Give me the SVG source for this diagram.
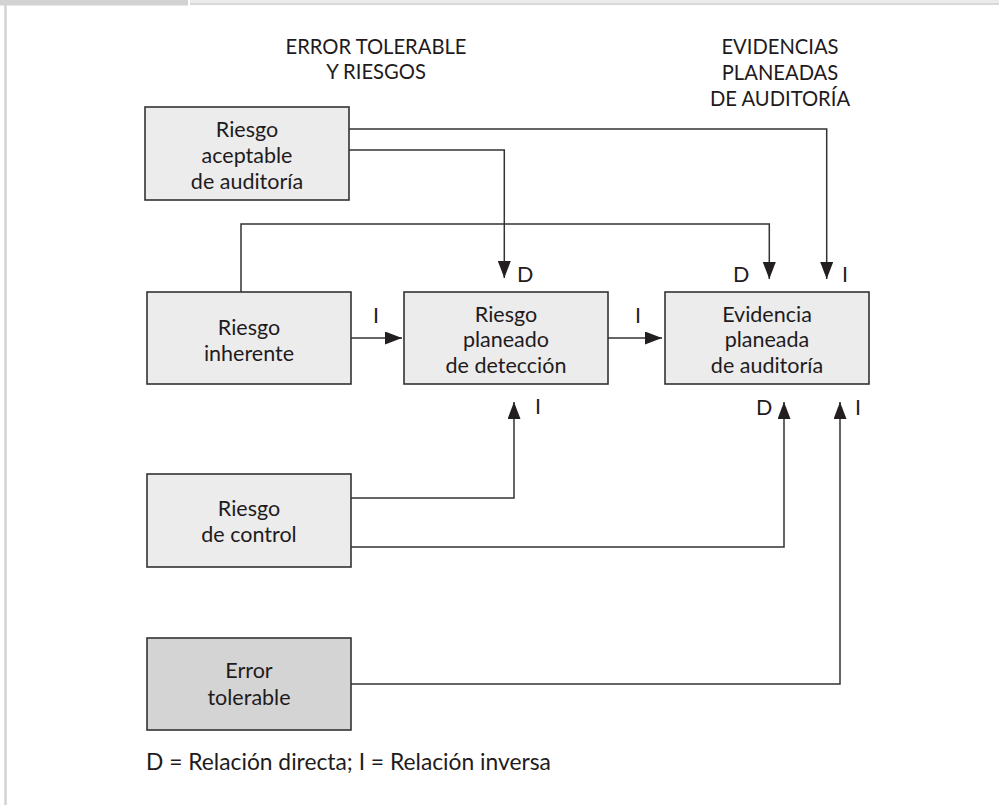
<svg xmlns="http://www.w3.org/2000/svg" width="999" height="805" viewBox="0 0 999 805">
<style>
  .box { fill: #ececec; stroke: #333333; stroke-width: 1.6; }
  .dark { fill: #d4d4d4; }
  .t { font-family: Lato, "Open Sans", sans-serif; font-size: 21.5px; fill: #1f1b1c; text-anchor: middle; }
  .h { font-size: 20.2px; }
  .lbl { font-family: Lato, "Open Sans", sans-serif; font-size: 21.5px; fill: #1f1b1c; }
  .leg { font-family: Lato, "Open Sans", sans-serif; font-size: 22.8px; fill: #1f1b1c; }
  .c { fill: none; stroke: #333333; stroke-width: 1.5; marker-end: url(#ah); }
</style>
<defs>
  <marker id="ah" markerUnits="userSpaceOnUse" markerWidth="20" markerHeight="14" refX="17" refY="6.5" orient="auto">
    <path d="M0,0 L17,6.5 L0,13 Z" fill="#231f20"/>
  </marker>
</defs>
<rect x="0" y="0" width="999" height="805" fill="#ffffff"/>
<g id="frame">
  <rect x="0" y="0" width="188" height="5.5" fill="#d2d2d2"/>
  <rect x="190" y="0" width="809" height="3" fill="#ebebeb"/>
  <rect x="190" y="3" width="809" height="2" fill="#d8d8d8"/>
  <rect x="4.3" y="5" width="2.4" height="800" fill="#d2d2d2"/>
</g>
<g id="headers">
  <text class="t h" x="376" y="54">ERROR TOLERABLE</text>
  <text class="t h" x="376" y="79">Y RIESGOS</text>
  <text class="t h" x="780" y="54">EVIDENCIAS</text>
  <text class="t h" x="780" y="80">PLANEADAS</text>
  <text class="t h" x="780" y="106">DE AUDITORÍA</text>
</g>
<g id="connectors">
  <path class="c" d="M349,129 H826.7 V279"/>
  <path class="c" d="M349,150 H504.3 V278"/>
  <path class="c" d="M241,292 V224 H769.3 V279"/>
  <path class="c" d="M351,338 H402"/>
  <path class="c" d="M608,338 H662"/>
  <path class="c" d="M351,498 H514 V402"/>
  <path class="c" d="M351,547 H784 V402"/>
  <path class="c" d="M351,684 H840 V402"/>
</g>
<g id="connector-labels">
  <text class="lbl" x="517" y="282">D</text>
  <text class="lbl" x="733" y="282">D</text>
  <text class="lbl" x="842" y="282">I</text>
  <text class="lbl" x="373" y="323">I</text>
  <text class="lbl" x="635" y="323">I</text>
  <text class="lbl" x="535" y="414">I</text>
  <text class="lbl" x="756" y="415">D</text>
  <text class="lbl" x="855" y="415">I</text>
</g>
<g id="riesgo-aceptable">
  <rect class="box" x="145" y="107" width="204" height="93"/>
  <text class="t" x="247" y="137">Riesgo</text>
  <text class="t" x="247" y="163">aceptable</text>
  <text class="t" x="247" y="188.5">de auditoría</text>
</g>
<g id="riesgo-inherente">
  <rect class="box" x="147" y="292" width="204" height="92"/>
  <text class="t" x="249" y="335">Riesgo</text>
  <text class="t" x="249" y="361">inherente</text>
</g>
<g id="riesgo-deteccion">
  <rect class="box" x="404" y="292" width="204" height="92"/>
  <text class="t" x="506" y="321.5">Riesgo</text>
  <text class="t" x="506" y="347">planeado</text>
  <text class="t" x="506" y="372.5">de detección</text>
</g>
<g id="evidencia">
  <rect class="box" x="665" y="292" width="204" height="92"/>
  <text class="t" x="767" y="321.5">Evidencia</text>
  <text class="t" x="767" y="347">planeada</text>
  <text class="t" x="767" y="372.5">de auditoría</text>
</g>
<g id="riesgo-control">
  <rect class="box" x="147" y="474" width="204" height="93"/>
  <text class="t" x="249" y="516">Riesgo</text>
  <text class="t" x="249" y="542">de control</text>
</g>
<g id="error-tolerable">
  <rect class="box dark" x="147" y="638" width="204" height="92"/>
  <text class="t" x="249" y="678">Error</text>
  <text class="t" x="249" y="705">tolerable</text>
</g>
<g id="legend">
  <text class="leg" x="146" y="770">D = Relación directa; I = Relación inversa</text>
</g>
</svg>
